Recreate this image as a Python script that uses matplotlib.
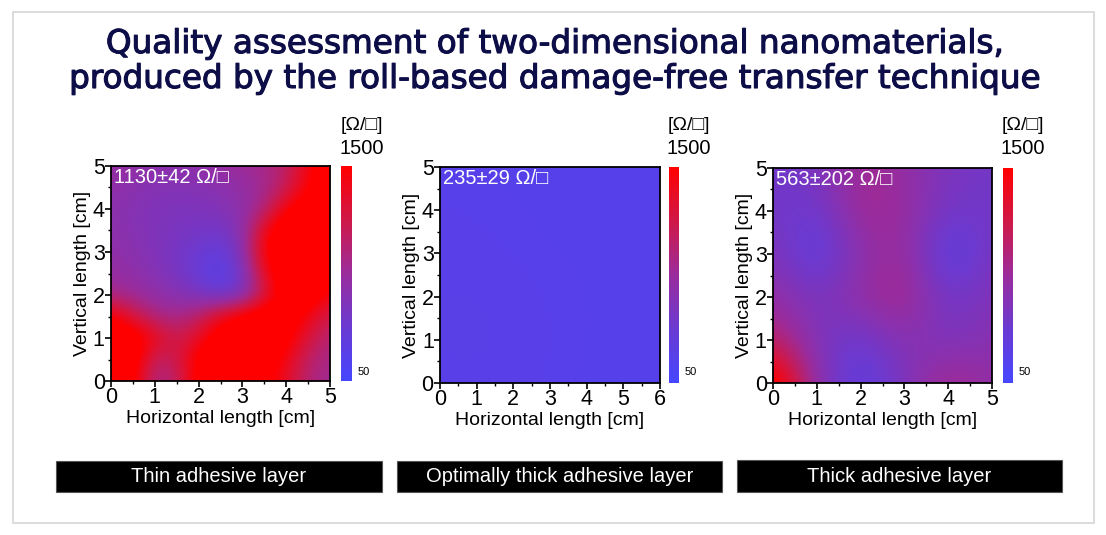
import numpy as np
import matplotlib
matplotlib.use("Agg")
import matplotlib.pyplot as plt
import matplotlib.patheffects as pe
from matplotlib.colors import LinearSegmentedColormap
from matplotlib.patches import Rectangle

plt.rcParams['font.family'] = ['Liberation Sans', 'DejaVu Sans']

W, H = 1106, 535

title_lines = ["Quality assessment of two-dimensional nanomaterials,",
               "produced by the roll-based damage-free transfer technique"]
panel_names = ["Thin adhesive layer", "Optimally thick adhesive layer", "Thick adhesive layer"]
panel_notes = ["1130±42 Ω/□", "235±29 Ω/□", "563±202 Ω/□"]
cbar_min, cbar_max = 50, 1500

# sheet resistance maps [Ω/□], rows from top (y max) down to y = 0
# thin layer: 0.5 cm grid, 0..5 cm
thin_x = [0, 0.5, 1, 1.5, 2, 2.5, 3, 3.5, 4, 4.5, 5]
thin_y = [0, 0.5, 1, 1.5, 2, 2.5, 3, 3.5, 4, 4.5, 5]
thin_map = [
    [750, 720, 680, 680, 700, 750, 800, 850, 1000, 1400, 1700],
    [700, 650, 620, 600, 620, 650, 720, 820, 1050, 1500, 1700],
    [680, 620, 580, 560, 560, 600, 680, 900, 1450, 1700, 1600],
    [680, 620, 580, 540, 500, 480, 650, 1350, 1800, 1800, 1600],
    [700, 650, 580, 500, 420, 350, 600, 1500, 1800, 1800, 1600],
    [750, 700, 620, 520, 380, 220, 500, 1300, 1800, 1800, 1600],
    [850, 780, 700, 640, 540, 420, 520, 1100, 1700, 1700, 1400],
    [1550, 1200, 900, 850, 1000, 1350, 1600, 1800, 1700, 1400, 1100],
    [1700, 1700, 1400, 1100, 1300, 1700, 1800, 1800, 1600, 1200, 950],
    [1800, 1700, 1000, 1100, 1600, 1800, 1800, 1700, 1400, 1000, 850],
    [1800, 1600, 850, 1000, 1600, 1800, 1800, 1600, 1300, 950, 800],
]

# optimal layer: 1 cm grid, 0..6 x 0..5 cm
opt_x = [0, 1, 2, 3, 4, 5, 6]
opt_y = [0, 1, 2, 3, 4, 5]
opt_map = [
    [228, 226, 224, 222, 222, 220, 218],
    [232, 230, 226, 224, 222, 220, 218],
    [238, 236, 230, 226, 224, 222, 220],
    [248, 252, 238, 230, 226, 222, 220],
    [252, 258, 242, 232, 226, 222, 220],
    [240, 242, 236, 230, 224, 220, 218],
]

# thick layer: 1 cm grid, 0..5 cm
thick_x = [0, 1, 2, 3, 4, 5]
thick_y = [0, 1, 2, 3, 4, 5]
thick_map = [
    [450, 550, 850, 720, 550, 480],
    [500, 400, 850, 780, 480, 480],
    [600, 250, 650, 800, 200, 550],
    [720, 520, 750, 900, 450, 600],
    [1000, 550, 400, 650, 520, 650],
    [1800, 650, 250, 550, 900, 700],
]

cmap = LinearSegmentedColormap.from_list(
    "bp_red", ["#4646ff", "#6a3ad2", "#9a2c9c", "#d01848", "#ff0000"])


def fr(x0, y0, x1, y1):
    # pixel box (top-left origin) -> figure fraction rect
    return [x0 / W, 1 - y1 / H, (x1 - x0) / W, (y1 - y0) / H]


fig = plt.figure(figsize=(W / 100, H / 100), dpi=100)
fig.patch.set_facecolor("white")
fig.patches.append(Rectangle((13 / W, 1 - 523 / H), 1081 / W, 511 / H,
                             transform=fig.transFigure, fill=False,
                             edgecolor="#d6d6d6", linewidth=1.2))

title_col = "#0d0d48"
for i, line in enumerate(title_lines):
    fig.text(554 / W, 1 - (53 + 35 * i) / H, line, ha="center", va="baseline",
             fontsize=23.5, color=title_col, family="DejaVu Sans",
             path_effects=[pe.withStroke(linewidth=0.8, foreground=title_col)])

panels = [
    (thin_x, thin_y, thin_map, (111, 166, 330, 381), (341, 352)),
    (opt_x, opt_y, opt_map, (440, 167, 660, 383), (669, 679)),
    (thick_x, thick_y, thick_map, (773, 168, 992, 383), (1003, 1013)),
]
boxes = [(56, 461, 382, 492), (397, 461, 722, 492), (737, 460, 1062, 492)]

for k, (xs, ys, vals, ab, cb) in enumerate(panels):
    ax = fig.add_axes(fr(*ab))
    z = np.array(vals, dtype=float)
    hx = (xs[1] - xs[0]) / 2
    hy = (ys[1] - ys[0]) / 2
    im = ax.imshow(z, cmap=cmap, vmin=cbar_min, vmax=cbar_max, origin="upper",
                   extent=[xs[0] - hx, xs[-1] + hx, ys[0] - hy, ys[-1] + hy],
                   interpolation="bicubic", aspect="auto")
    ax.set_xlim(xs[0], xs[-1])
    ax.set_ylim(ys[0], ys[-1])
    ax.set_xticks(xs if len(xs) < 8 else xs[::2])
    ax.set_yticks(ys if len(ys) < 8 else ys[::2])
    ax.set_xticks(np.arange(xs[0] + 0.5, xs[-1], 1.0), minor=True)
    ax.set_yticks(np.arange(ys[0] + 0.5, ys[-1], 1.0), minor=True)
    ax.xaxis.set_major_formatter(matplotlib.ticker.FormatStrFormatter("%d"))
    ax.yaxis.set_major_formatter(matplotlib.ticker.FormatStrFormatter("%d"))
    ax.tick_params(which="major", direction="out", length=4, width=1.2,
                   labelsize=15.5, pad=0.5)
    ax.tick_params(which="minor", direction="out", length=2.5, width=1)
    for s in ax.spines.values():
        s.set_linewidth(1.3)
    ax.set_xlabel("Horizontal length [cm]", fontsize=14, labelpad=1)
    ax.set_ylabel("Vertical length [cm]", fontsize=14, labelpad=1)
    ax.text(0.012, 0.99, panel_notes[k], transform=ax.transAxes, ha="left",
            va="top", color="white", fontsize=14.5)

    cax = fig.add_axes(fr(cb[0], ab[1], cb[1], ab[3]))
    cbar = fig.colorbar(im, cax=cax)
    cbar.outline.set_visible(False)
    cbar.set_ticks([])
    cx = (cb[0] + cb[1]) / 2 + 15
    fig.text(cx / W, 1 - 125 / H, "[Ω/□]", ha="center", va="center", fontsize=14)
    fig.text(cx / W, 1 - 148 / H, str(cbar_max), ha="center", va="center", fontsize=14.5)
    fig.text((cb[1] + 6) / W, 1 - 372 / H, str(cbar_min), ha="left", va="center",
             fontsize=8)

    bx = boxes[k]
    fig.patches.append(Rectangle((bx[0] / W, 1 - bx[3] / H), (bx[2] - bx[0]) / W,
                                 (bx[3] - bx[1]) / H, transform=fig.transFigure,
                                 facecolor="black", edgecolor="#555555", linewidth=0.8))
    fig.text((bx[0] + bx[2]) / 2 / W, 1 - (bx[1] + bx[3]) / 2 / H, panel_names[k],
             ha="center", va="center", color="white", fontsize=14.5)

fig.savefig("out.png", dpi=100)
